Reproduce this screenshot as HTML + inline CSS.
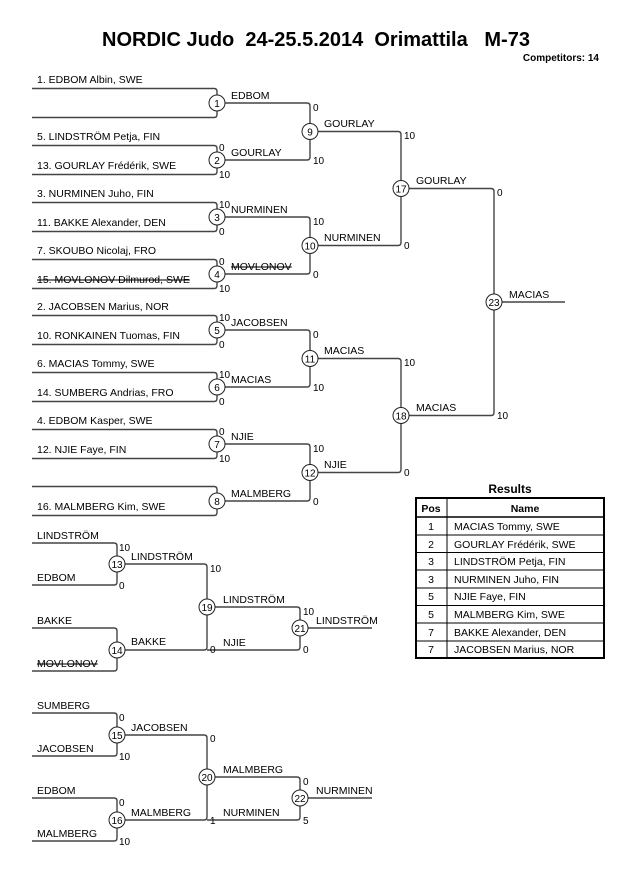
<!DOCTYPE html>
<html><head><meta charset="utf-8"><style>
body{margin:0;background:#fff;}
svg{display:block;font-family:"Liberation Sans",Arial,sans-serif;}
.l{fill:none;stroke:#444;stroke-width:1.4}
.c{fill:#fff;stroke:#222;stroke-width:1}
.n{font-size:10.5px;fill:#000}
.s{font-size:10px;fill:#000}
.m{font-size:10px;fill:#000;text-anchor:middle}
.st{text-decoration:line-through}
</style></head><body>
<svg width="630" height="891" viewBox="0 0 630 891">
<text x="316" y="46" text-anchor="middle" font-size="20" font-weight="bold" xml:space="preserve">NORDIC Judo&#160; 24-25.5.2014&#160; Orimattila&#160;&#160; M-73</text>
<text x="599" y="61" text-anchor="end" font-size="10" font-weight="bold">Competitors: 14</text>

<!-- Round 1 brackets -->
<path class="l" d="M32 88.5H214Q217 88.5 217 91.5V114.5Q217 117.5 214 117.5H32"/>
<path class="l" d="M32 145.5H214Q217 145.5 217 148.5V171.5Q217 174.5 214 174.5H32"/>
<path class="l" d="M32 202.5H214Q217 202.5 217 205.5V228.5Q217 231.5 214 231.5H32"/>
<path class="l" d="M32 259.5H214Q217 259.5 217 262.5V285.5Q217 288.5 214 288.5H32"/>
<path class="l" d="M32 315.5H214Q217 315.5 217 318.5V341.5Q217 344.5 214 344.5H32"/>
<path class="l" d="M32 372.5H214Q217 372.5 217 375.5V398.5Q217 401.5 214 401.5H32"/>
<path class="l" d="M32 429.5H214Q217 429.5 217 432.5V455.5Q217 458.5 214 458.5H32"/>
<path class="l" d="M32 486.5H214Q217 486.5 217 489.5V512.5Q217 515.5 214 515.5H32"/>
<!-- Round 2 -->
<path class="l" d="M217 103H307Q310 103 310 106V157Q310 160 307 160H217"/>
<path class="l" d="M217 217H307Q310 217 310 220V271Q310 274 307 274H217"/>
<path class="l" d="M217 330H307Q310 330 310 333V384Q310 387 307 387H217"/>
<path class="l" d="M217 444H307Q310 444 310 447V498Q310 501 307 501H217"/>
<!-- Round 3 -->
<path class="l" d="M310 131.5H398Q401 131.5 401 134.5V242.5Q401 245.5 398 245.5H310"/>
<path class="l" d="M310 358.5H398Q401 358.5 401 361.5V469.5Q401 472.5 398 472.5H310"/>
<!-- Final -->
<path class="l" d="M401 188.5H491Q494 188.5 494 191.5V412.5Q494 415.5 491 415.5H401"/>
<path class="l" d="M494 302H565"/>

<!-- Circles main -->
<g>
<circle class="c" cx="217" cy="103" r="8"/><text class="m" x="217" y="107">1</text>
<circle class="c" cx="217" cy="160" r="8"/><text class="m" x="217" y="164">2</text>
<circle class="c" cx="217" cy="217" r="8"/><text class="m" x="217" y="221">3</text>
<circle class="c" cx="217" cy="274" r="8"/><text class="m" x="217" y="278">4</text>
<circle class="c" cx="217" cy="330" r="8"/><text class="m" x="217" y="334">5</text>
<circle class="c" cx="217" cy="387" r="8"/><text class="m" x="217" y="391">6</text>
<circle class="c" cx="217" cy="444" r="8"/><text class="m" x="217" y="448">7</text>
<circle class="c" cx="217" cy="501" r="8"/><text class="m" x="217" y="505">8</text>
<circle class="c" cx="310" cy="131.5" r="8"/><text class="m" x="310" y="135.5">9</text>
<circle class="c" cx="310" cy="245.5" r="8"/><text class="m" x="310" y="249.5">10</text>
<circle class="c" cx="310" cy="358.5" r="8"/><text class="m" x="310" y="362.5">11</text>
<circle class="c" cx="310" cy="472.5" r="8"/><text class="m" x="310" y="476.5">12</text>
<circle class="c" cx="401" cy="188.5" r="8"/><text class="m" x="401" y="192.5">17</text>
<circle class="c" cx="401" cy="415.5" r="8"/><text class="m" x="401" y="419.5">18</text>
<circle class="c" cx="494" cy="302" r="8"/><text class="m" x="494" y="306">23</text>
</g>

<!-- Entrant names -->
<text class="n" x="37" y="83">1. EDBOM Albin, SWE</text>
<text class="n" x="37" y="140">5. LINDSTRÖM Petja, FIN</text>
<text class="n" x="37" y="169">13. GOURLAY Frédérik, SWE</text>
<text class="n" x="37" y="197">3. NURMINEN Juho, FIN</text>
<text class="n" x="37" y="226">11. BAKKE Alexander, DEN</text>
<text class="n" x="37" y="254">7. SKOUBO Nicolaj, FRO</text>
<text class="n st" x="37" y="283">15. MOVLONOV Dilmurod, SWE</text>
<text class="n" x="37" y="310">2. JACOBSEN Marius, NOR</text>
<text class="n" x="37" y="339">10. RONKAINEN Tuomas, FIN</text>
<text class="n" x="37" y="367">6. MACIAS Tommy, SWE</text>
<text class="n" x="37" y="396">14. SUMBERG Andrias, FRO</text>
<text class="n" x="37" y="424">4. EDBOM Kasper, SWE</text>
<text class="n" x="37" y="453">12. NJIE Faye, FIN</text>
<text class="n" x="37" y="510">16. MALMBERG Kim, SWE</text>

<!-- Winner labels -->
<text class="n" x="231" y="99">EDBOM</text>
<text class="n" x="231" y="156">GOURLAY</text>
<text class="n" x="231" y="213">NURMINEN</text>
<text class="n st" x="231" y="270">MOVLONOV</text>
<text class="n" x="231" y="326">JACOBSEN</text>
<text class="n" x="231" y="383">MACIAS</text>
<text class="n" x="231" y="440">NJIE</text>
<text class="n" x="231" y="497">MALMBERG</text>
<text class="n" x="324" y="127">GOURLAY</text>
<text class="n" x="324" y="241">NURMINEN</text>
<text class="n" x="324" y="354">MACIAS</text>
<text class="n" x="324" y="468">NJIE</text>
<text class="n" x="416" y="184">GOURLAY</text>
<text class="n" x="416" y="411">MACIAS</text>
<text class="n" x="509" y="298">MACIAS</text>

<!-- Scores R1 -->
<text class="s" x="219" y="151">0</text><text class="s" x="219" y="178">10</text>
<text class="s" x="219" y="208">10</text><text class="s" x="219" y="235">0</text>
<text class="s" x="219" y="265">0</text><text class="s" x="219" y="292">10</text>
<text class="s" x="219" y="321">10</text><text class="s" x="219" y="348">0</text>
<text class="s" x="219" y="378">10</text><text class="s" x="219" y="405">0</text>
<text class="s" x="219" y="435">0</text><text class="s" x="219" y="462">10</text>
<!-- Scores R2 -->
<text class="s" x="313" y="111">0</text><text class="s" x="313" y="164">10</text>
<text class="s" x="313" y="225">10</text><text class="s" x="313" y="278">0</text>
<text class="s" x="313" y="338">0</text><text class="s" x="313" y="391">10</text>
<text class="s" x="313" y="452">10</text><text class="s" x="313" y="505">0</text>
<!-- Scores R3 -->
<text class="s" x="404" y="139">10</text><text class="s" x="404" y="249">0</text>
<text class="s" x="404" y="366">10</text><text class="s" x="404" y="476">0</text>
<!-- Final scores -->
<text class="s" x="497" y="196">0</text><text class="s" x="497" y="419">10</text>

<!-- Repechage 1 -->
<path class="l" d="M32 543H114Q117 543 117 546V582Q117 585 114 585H32"/>
<path class="l" d="M32 628H114Q117 628 117 631V668Q117 671 114 671H32"/>
<path class="l" d="M117 564H204Q207 564 207 567V647Q207 650 204 650H117"/>
<path class="l" d="M207 607H297Q300 607 300 610V647Q300 650 297 650H207"/>
<path class="l" d="M300 628H372"/>
<circle class="c" cx="117" cy="564" r="8"/><text class="m" x="117" y="568">13</text>
<circle class="c" cx="117" cy="650" r="8"/><text class="m" x="117" y="654">14</text>
<circle class="c" cx="207" cy="607" r="8"/><text class="m" x="207" y="611">19</text>
<circle class="c" cx="300" cy="628" r="8"/><text class="m" x="300" y="632">21</text>
<text class="n" x="37" y="539">LINDSTRÖM</text>
<text class="n" x="37" y="581">EDBOM</text>
<text class="n" x="37" y="624">BAKKE</text>
<text class="n st" x="37" y="667">MOVLONOV</text>
<text class="n" x="131" y="560">LINDSTRÖM</text>
<text class="n" x="131" y="645">BAKKE</text>
<text class="n" x="223" y="603">LINDSTRÖM</text>
<text class="n" x="223" y="646">NJIE</text>
<text class="n" x="316" y="624">LINDSTRÖM</text>
<text class="s" x="119" y="551">10</text><text class="s" x="119" y="589">0</text>
<text class="s" x="210" y="572">10</text><text class="s" x="210" y="653">0</text>
<text class="s" x="303" y="615">10</text><text class="s" x="303" y="653">0</text>

<!-- Repechage 2 -->
<path class="l" d="M32 713H114Q117 713 117 716V753Q117 756 114 756H32"/>
<path class="l" d="M32 798H114Q117 798 117 801V838Q117 841 114 841H32"/>
<path class="l" d="M117 735H204Q207 735 207 738V817Q207 820 204 820H117"/>
<path class="l" d="M207 777H297Q300 777 300 780V817Q300 820 297 820H207"/>
<path class="l" d="M300 798H372"/>
<circle class="c" cx="117" cy="735" r="8"/><text class="m" x="117" y="739">15</text>
<circle class="c" cx="117" cy="820" r="8"/><text class="m" x="117" y="824">16</text>
<circle class="c" cx="207" cy="777" r="8"/><text class="m" x="207" y="781">20</text>
<circle class="c" cx="300" cy="798" r="8"/><text class="m" x="300" y="802">22</text>
<text class="n" x="37" y="709">SUMBERG</text>
<text class="n" x="37" y="752">JACOBSEN</text>
<text class="n" x="37" y="794">EDBOM</text>
<text class="n" x="37" y="837">MALMBERG</text>
<text class="n" x="131" y="731">JACOBSEN</text>
<text class="n" x="131" y="816">MALMBERG</text>
<text class="n" x="223" y="773">MALMBERG</text>
<text class="n" x="223" y="816">NURMINEN</text>
<text class="n" x="316" y="794">NURMINEN</text>
<text class="s" x="119" y="721">0</text><text class="s" x="119" y="760">10</text>
<text class="s" x="119" y="806">0</text><text class="s" x="119" y="845">10</text>
<text class="s" x="210" y="742">0</text><text class="s" x="210" y="824">1</text>
<text class="s" x="303" y="785">0</text><text class="s" x="303" y="824">5</text>

<!-- Results table -->
<text x="510" y="493" text-anchor="middle" font-size="12" font-weight="bold">Results</text>
<rect x="416" y="498" width="188" height="160" fill="#fff" stroke="#000" stroke-width="2"/>
<line x1="447" y1="498" x2="447" y2="658" stroke="#000"/>
<g stroke="#000" stroke-width="1">
<line x1="416" y1="517" x2="604" y2="517" stroke-width="1.5"/>
<line x1="416" y1="535" x2="604" y2="535"/>
<line x1="416" y1="552.5" x2="604" y2="552.5"/>
<line x1="416" y1="570" x2="604" y2="570"/>
<line x1="416" y1="588" x2="604" y2="588"/>
<line x1="416" y1="605.5" x2="604" y2="605.5"/>
<line x1="416" y1="623" x2="604" y2="623"/>
<line x1="416" y1="641" x2="604" y2="641"/>
</g>
<g font-size="10.5">
<text x="431" y="512" text-anchor="middle" font-weight="bold">Pos</text>
<text x="525" y="512" text-anchor="middle" font-weight="bold">Name</text>
<text x="431" y="530" text-anchor="middle">1</text><text x="454" y="530">MACIAS Tommy, SWE</text>
<text x="431" y="548" text-anchor="middle">2</text><text x="454" y="548">GOURLAY Frédérik, SWE</text>
<text x="431" y="565" text-anchor="middle">3</text><text x="454" y="565">LINDSTRÖM Petja, FIN</text>
<text x="431" y="583" text-anchor="middle">3</text><text x="454" y="583">NURMINEN Juho, FIN</text>
<text x="431" y="600" text-anchor="middle">5</text><text x="454" y="600">NJIE Faye, FIN</text>
<text x="431" y="618" text-anchor="middle">5</text><text x="454" y="618">MALMBERG Kim, SWE</text>
<text x="431" y="636" text-anchor="middle">7</text><text x="454" y="636">BAKKE Alexander, DEN</text>
<text x="431" y="653" text-anchor="middle">7</text><text x="454" y="653">JACOBSEN Marius, NOR</text>
</g>
</svg>
</body></html>
